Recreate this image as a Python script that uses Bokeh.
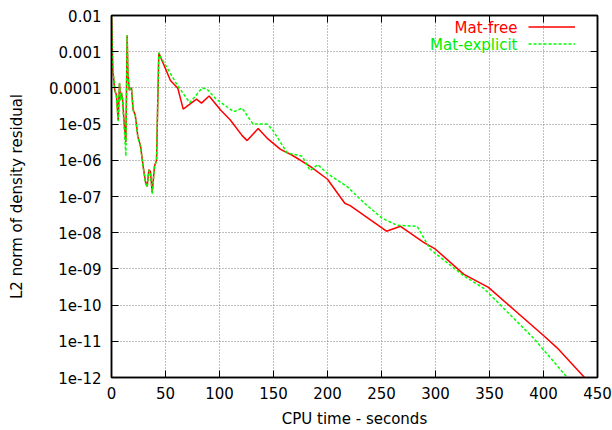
from bokeh.plotting import figure
from bokeh.models import (FixedTicker, LinearAxis, LogAxis, CustomJSTickFormatter, Range1d,
                          Label, Legend, LegendItem)
from bokeh.embed import file_html
from bokeh.resources import INLINE

# ---- data ----
free_t = [0, 1.2, 3, 4.6, 6.2, 7.4, 8.3, 9.3, 10.2, 12, 13.3, 14.5, 15.2, 16.4, 18.5, 20, 22,
          24.4, 26.9, 29.3, 31.5, 33, 34.6, 36, 37.7, 39.8, 41.7, 43.8, 54.6, 61.4, 66.4, 78.7,
          83.3, 90.4, 101, 110, 121, 125.6, 135.8, 144, 156.5, 167, 184, 200, 216, 221, 254.6,
          267.6, 289, 300, 326, 349, 400, 412.6, 438]
free_r = [1e-2, 3.2e-4, 8.7e-5, 6.3e-5, 1.3e-5, 1.35e-4, 5.0e-5, 7.1e-5, 5.0e-5, 8.5e-6, 3.2e-6,
          2.8e-3, 2.5e-4, 8.7e-5, 1.0e-4, 2.5e-5, 1.8e-5, 4.5e-6, 2.5e-6, 6.8e-7, 2.5e-7, 1.9e-7,
          5.5e-7, 5.0e-7, 1.3e-7, 6.8e-7, 1.0e-6, 9.3e-4, 1.6e-4, 9.8e-5, 2.6e-5, 4.9e-5, 3.8e-5,
          6.0e-5, 2.45e-5, 1.3e-5, 4.8e-6, 3.5e-6, 7.6e-6, 4.1e-6, 2.0e-6, 1.4e-6, 6.8e-7, 3.0e-7,
          6.5e-8, 5.6e-8, 1.1e-8, 1.5e-8, 5.4e-9, 3.5e-9, 7.2e-10, 3.1e-10, 1.45e-11, 6.6e-12,
          1.0e-12]

expl_t = [0, 1.2, 3, 4.6, 6.2, 7.4, 8.3, 9.3, 10.2, 12, 13.3, 14.5, 15.2, 16.4, 18.5, 20, 22,
          24.4, 26.9, 29.3, 31.5, 33, 34.6, 36, 37.7, 39.8, 41.7, 43.8, 44.7, 60.8, 72.5, 84,
          88.6, 96.3, 113, 121, 131, 144, 148.8, 162.7, 172, 176.5, 184, 191, 200, 218, 233.6,
          250.6, 264.5, 283, 295, 326, 344.7, 391, 422]
expl_r = [1e-2, 4.0e-4, 9.0e-5, 5.5e-5, 1.2e-5, 1.4e-4, 4.5e-5, 7.5e-5, 4.5e-5, 6.0e-6, 1.3e-6,
          2.9e-3, 2.2e-4, 9.0e-5, 1.0e-4, 2.4e-5, 1.7e-5, 4.3e-6, 2.3e-6, 6.5e-7, 2.3e-7, 1.8e-7,
          5.3e-7, 4.8e-7, 1.2e-7, 6.5e-7, 1.0e-6, 9.3e-4, 7.9e-4, 1.2e-4, 3.9e-5, 1.0e-4, 9.1e-5,
          5.1e-5, 2.2e-5, 2.75e-5, 1.0e-5, 1.0e-5, 7.2e-6, 1.6e-6, 1.4e-6, 1.3e-6, 5.2e-7, 7.6e-7,
          4.3e-7, 1.9e-7, 6.8e-8, 2.5e-8, 1.6e-8, 1.5e-8, 3.5e-9, 6.5e-10, 2.9e-10, 1.2e-11,
          1.0e-12]

x_ticks = [0, 50, 100, 150, 200, 250, 300, 350, 400, 450]
y_ticks = [1e-12, 1e-11, 1e-10, 1e-9, 1e-8, 1e-7, 1e-6, 1e-5, 1e-4, 1e-3, 1e-2]
series_names = ["Mat-free", "Mat-explicit"]

FONT = "DejaVu Sans"
FS = "15px"

p = figure(width=612, height=430, y_axis_type="log", output_backend="svg",
           toolbar_location=None, x_range=Range1d(0, 450), y_range=Range1d(1e-12, 1e-2),
           min_border_left=111, min_border_right=15, min_border_top=15, min_border_bottom=51)
p.background_fill_color = "white"
p.border_fill_color = "white"
p.outline_line_color = "black"
p.outline_line_width = 1.5

fmt = CustomJSTickFormatter(code="""
const e = Math.round(Math.log10(tick));
if (e >= -4) { return tick.toFixed(-e); }
const a = -e;
return '1e-' + (a < 10 ? '0' + a : String(a));
""")

xt = FixedTicker(ticks=x_ticks)
yt = FixedTicker(ticks=y_ticks)

for ax in p.xaxis:
    ax.ticker = xt
for ax in p.yaxis:
    ax.ticker = yt
    ax.formatter = fmt

for ax in list(p.xaxis) + list(p.yaxis):
    ax.major_tick_in = 7
    ax.major_tick_out = 0
    ax.minor_tick_in = 0
    ax.minor_tick_out = 0
    ax.axis_line_color = "black"
    ax.axis_line_width = 1.5
    ax.major_tick_line_color = "black"
    ax.major_label_text_font = FONT
    ax.major_label_text_font_size = FS
    ax.major_label_text_color = "black"
    ax.axis_label_text_font = FONT
    ax.axis_label_text_font_size = FS
    ax.axis_label_text_font_style = "normal"
    ax.axis_label_text_color = "black"

p.xaxis.axis_label = "CPU time - seconds"
p.yaxis.axis_label = "L2 norm of density residual"
p.xaxis.major_label_standoff = 9
p.xaxis.axis_label_standoff = 8
p.yaxis.major_label_standoff = 10
p.yaxis.axis_label_standoff = 20

# mirrored ticks (labels not drawn)
top = LinearAxis(ticker=xt, major_tick_in=7, major_tick_out=0, minor_tick_in=0, minor_tick_out=0,
                 major_label_text_font_size="6px", major_label_text_color=None,
                 major_label_standoff=0, axis_line_color="black", axis_line_width=1.5)
right = LogAxis(ticker=yt, major_tick_in=7, major_tick_out=0, minor_tick_in=0, minor_tick_out=0,
                major_label_text_font_size="6px", major_label_text_color=None,
                major_label_standoff=0, axis_line_color="black", axis_line_width=1.5)
p.add_layout(top, "above")
p.add_layout(right, "right")

p.grid.grid_line_color = "#808080"
p.grid.grid_line_dash = "1 2"
p.grid.grid_line_width = 1
p.xgrid.ticker = xt
p.ygrid.ticker = yt

r1 = p.line(free_t, free_r, line_color="#ff0000", line_width=1.5)
r2 = p.line(expl_t, expl_r, line_color="#00ff00", line_width=1.5, line_dash="3 2")

# gnuplot-style key: text right-aligned, sample on the right
for name, col, yy in [(series_names[0], "#ff0000", 350), (series_names[1], "#00ee00", 333)]:
    p.add_layout(Label(x=406, y=yy, x_units="screen", y_units="screen", text=name,
                       text_align="right", text_baseline="middle", text_color=col,
                       text_font=FONT, text_font_size=FS))

leg = Legend(items=[LegendItem(label=" ", renderers=[r1]), LegendItem(label=" ", renderers=[r2])],
             location=(417, 325), glyph_width=47, glyph_height=17, label_height=17,
             label_width=0, label_standoff=0, spacing=0, padding=0, margin=0,
             label_text_font_size="8px", label_text_color=None,
             background_fill_alpha=0, border_line_alpha=0)
p.add_layout(leg, "center")

open("out.html", "w").write(file_html(p, INLINE))
